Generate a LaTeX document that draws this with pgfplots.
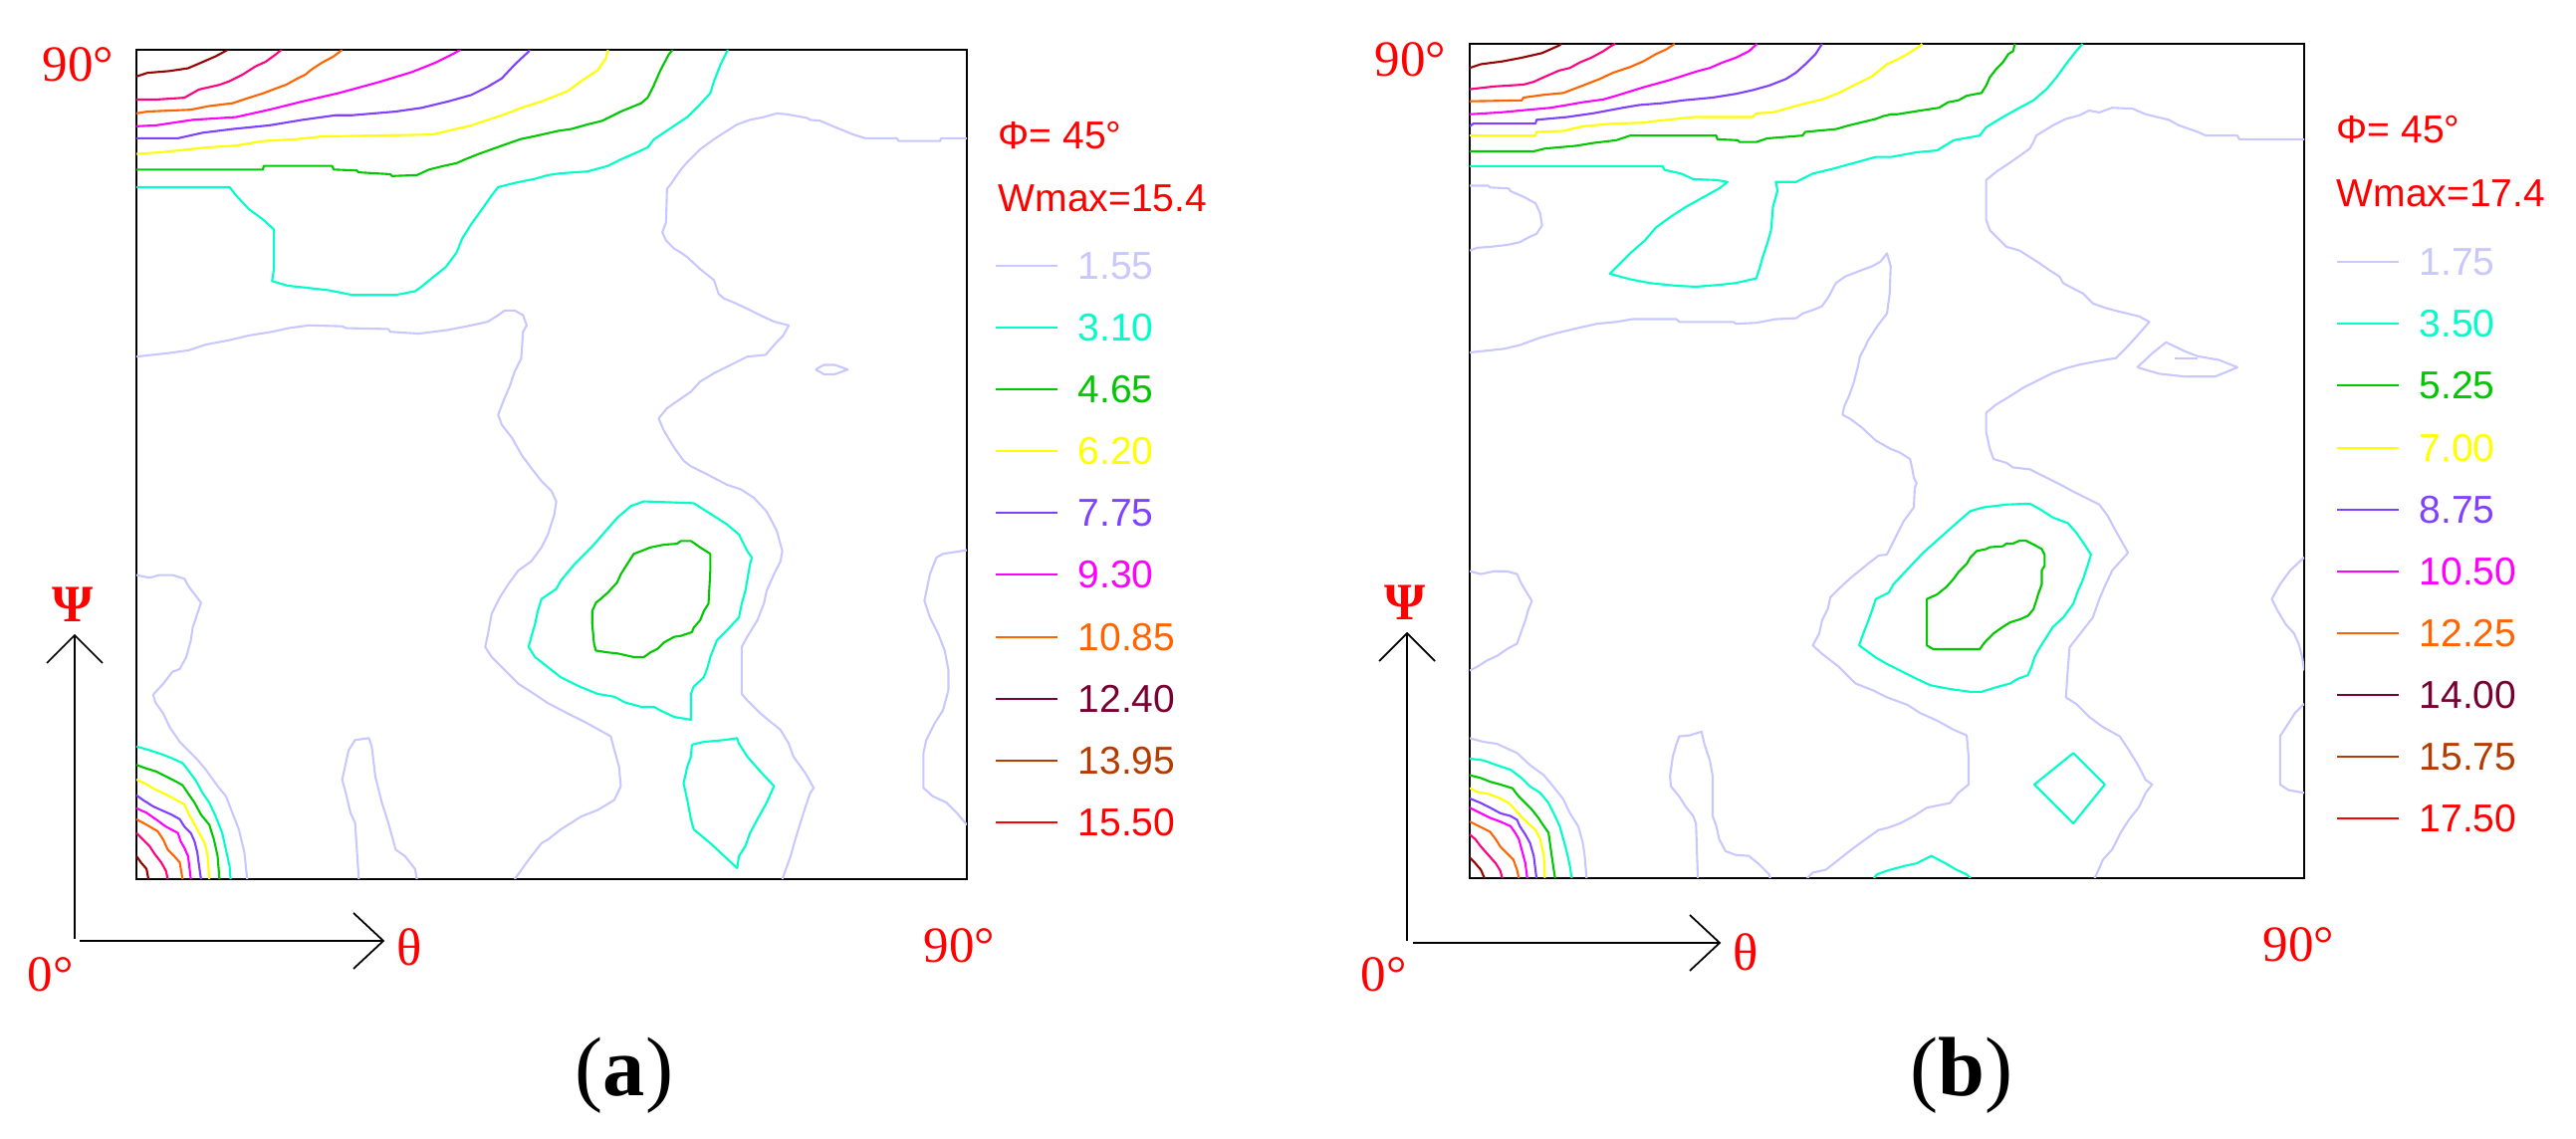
\documentclass[border=0pt]{standalone}
\usepackage{fontspec}
\setmainfont{Liberation Serif}
\newfontfamily\lsans{Liberation Sans}
\usepackage{pgfplots}
\pgfplotsset{compat=1.18}
\definecolor{clav}{RGB}{200,200,255}
\definecolor{ccyan}{RGB}{0,255,200}
\definecolor{cgreen}{RGB}{0,200,0}
\definecolor{cyellow}{RGB}{255,255,0}
\definecolor{cpurple}{RGB}{128,64,255}
\definecolor{cmag}{RGB}{255,0,255}
\definecolor{corange}{RGB}{255,100,0}
\definecolor{cpink}{RGB}{255,0,128}
\definecolor{cdark}{RGB}{150,0,0}
\definecolor{cmaroon}{RGB}{120,0,50}
\definecolor{cbrown}{RGB}{180,60,0}
\definecolor{cred}{RGB}{255,0,0}
\pgfplotsset{odf/.style={scale only axis, xmin=0, xmax=90, ymin=0, ymax=90,
  xtick=\empty, ytick=\empty, axis line style={line width=0.7pt}, no markers,
  every axis plot/.append style={line width=0.6pt, line join=round}}}
\newcommand{\lfont}{\lsans\fontsize{11.1pt}{13pt}\selectfont}
\newcommand{\sfontb}{\fontsize{14.5pt}{17pt}\selectfont}
\newcommand{\legrow}[4]{%
  \draw[#3, line width=0.6pt] (#1,#2) -- ({#1+0.62},#2);
  \node[anchor=west, inner sep=0pt, text=#3, font=\lfont] at ({#1+0.82},#2) {#4};}
\begin{document}
\begin{tikzpicture}
\useasboundingbox (0,0) rectangle (25.87,11.43);
% ---------------- panel (a) ----------------
\begin{axis}[odf, at={(1.37cm,2.60cm)}, anchor=south west, width=8.34cm, height=8.33cm]
% lavender 1.55
\addplot[clav] coordinates {(0,56.7)(3.6,57.1)(5.7,57.4)(7.5,58.0)(10.1,58.5)(12.2,59.0)(14.7,59.4)(16.5,59.8)(18.7,60.1)(22.3,60.0)(22.7,59.8)(27.3,59.7)(27.5,59.4)(30.6,59.2)(33.8,59.6)(36.3,60.1)(38.1,60.5)(39.2,61.2)(39.9,61.7)(41.0,61.7)(41.9,61.2)(42.3,60.1)(41.9,59.4)(41.7,56.5)(41.0,55.1)(40.5,53.6)(39.9,52.2)(39.2,50.4)(39.6,49.3)(40.7,47.9)(41.7,46.1)(42.8,44.6)(43.9,43.2)(45.0,42.1)(45.5,41.0)(45.3,39.6)(44.6,37.4)(43.9,36.0)(42.8,34.5)(41.4,33.5)(40.3,32.0)(39.4,30.6)(38.5,28.8)(38.1,26.6)(37.8,25.2)(38.5,24.1)(39.9,22.7)(41.4,21.2)(42.8,20.3)(44.6,19.1)(46.7,18.0)(48.9,16.9)(51.4,15.5)(51.8,14.0)(52.3,12.2)(52.5,10.1)(51.8,8.6)(50.0,7.5)(48.2,6.8)(46.0,5.4)(44.6,4.3)(43.9,3.9)(42.5,2.1)(41.0,0)};
\addplot[clav] coordinates {(90,80.4)(87.2,80.4)(87.1,80.1)(82.6,80.1)(82.4,80.4)(79.0,80.4)(77.7,80.8)(75.5,81.7)(74.1,82.3)(73.0,82.4)(72.7,82.6)(70.5,83.0)(69.4,83.1)(68.0,82.7)(66.5,82.4)(65.1,81.9)(64.0,81.2)(62.6,80.3)(61.1,79.2)(59.7,77.8)(59.0,77.0)(57.9,75.4)(57.5,74.9)(57.4,71.3)(57.0,70.2)(57.4,69.3)(58.3,68.4)(59.0,68.0)(59.7,67.5)(61.1,66.2)(62.6,65.0)(63.1,63.5)(63.7,63.0)(64.7,62.6)(66.2,61.9)(67.6,61.2)(69.1,60.5)(70.7,60.1)(70.1,59.0)(69.4,58.3)(68.2,56.9)(66.2,56.7)(64.4,55.8)(62.6,54.9)(61.1,54.0)(60.1,52.9)(58.8,52.0)(57.5,51.1)(56.6,50.0)(57.2,48.6)(58.3,46.8)(59.3,45.4)(60.1,44.8)(61.9,43.9)(64.0,42.8)(65.5,42.3)(66.9,41.4)(68.3,39.9)(69.4,37.8)(70.0,35.6)(69.8,34.5)(69.1,33.1)(68.3,31.3)(68.0,29.9)(67.3,28.1)(66.2,26.3)(65.6,25.2)(65.6,20.1)(66.2,19.4)(67.6,18.0)(69.8,16.2)(70.7,14.7)(71.2,13.3)(72.5,11.5)(73.4,9.9)(73.0,9.3)(72.3,7.2)(71.4,4.3)(70.9,2.5)(70.0,0)};
\addplot[clav] coordinates {(73.6,55.3)(74.5,55.8)(75.7,55.8)(77.1,55.3)(75.7,54.8)(74.5,54.8)(73.6,55.3)};
\addplot[clav] coordinates {(90,35.7)(87.4,35.3)(86.7,34.9)(86.0,33.1)(85.4,30.2)(86.0,28.4)(86.9,26.6)(87.6,24.8)(88.0,22.7)(88.0,20.5)(87.4,18.3)(86.5,16.9)(85.6,15.1)(85.3,13.7)(85.3,9.9)(86.3,9.0)(87.8,8.3)(88.9,7.2)(90,5.9)};
\addplot[clav] coordinates {(0,33.0)(1.4,32.7)(2.5,33.0)(3.9,33.0)(5.2,32.6)(5.7,31.7)(7.0,30.0)(6.6,28.8)(6.1,27.3)(5.9,25.9)(5.4,24.1)(4.7,22.8)(3.9,22.5)(2.9,21.2)(1.8,20.0)(2.1,19.1)(2.9,18.0)(3.6,16.5)(4.7,14.9)(5.6,14.0)(6.5,13.1)(7.5,11.9)(8.8,10.1)(9.7,9.0)(10.4,7.2)(11.1,5.4)(11.7,2.9)(12.0,0)};
\addplot[clav] coordinates {(24.1,0)(23.7,6.1)(23.2,7.2)(22.7,9.3)(22.3,10.8)(23.0,14.0)(23.7,15.1)(25.2,15.3)(25.5,14.4)(25.9,11.1)(26.6,8.3)(27.3,6.1)(28.1,3.2)(29.1,2.5)(30.2,1.1)(30.4,0)};
% cyan 3.10
\addplot[ccyan] coordinates {(0,75.1)(10.1,75.1)(10.8,74.2)(12.2,72.7)(13.7,71.6)(14.9,70.5)(14.9,66.2)(14.7,64.9)(16.4,64.4)(18.3,64.2)(20.9,63.9)(23.4,63.4)(28.1,63.4)(30.2,63.8)(30.9,64.3)(32.0,65.2)(33.5,66.4)(34.7,68.0)(35.3,69.5)(36.3,71.1)(37.6,72.9)(38.5,74.2)(39.2,75.1)(41.2,75.6)(43.2,76.0)(44.6,76.4)(46.0,76.6)(48.9,76.8)(51.1,77.4)(52.5,78.1)(54.3,78.9)(55.4,79.4)(56.1,80.3)(57.9,81.5)(59.7,82.7)(61.1,84.1)(62.2,85.3)(62.6,86.6)(63.3,88.4)(64.0,89.8)(64.1,90)};
\addplot[ccyan] coordinates {(55.0,41.0)(60.4,40.8)(62.6,39.4)(64.0,38.5)(65.3,37.4)(66.2,35.6)(66.7,34.9)(66.5,34.2)(66.0,31.3)(65.6,29.9)(65.3,28.4)(64.0,27.0)(62.9,25.9)(62.2,24.1)(61.9,23.0)(61.5,21.9)(60.4,20.9)(60.1,20.1)(60.1,17.3)(58.3,17.6)(56.8,18.3)(56.1,18.7)(54.7,18.7)(52.9,19.2)(51.8,19.8)(50.0,20.1)(47.8,21.0)(46.0,21.9)(44.6,23.0)(43.2,24.1)(42.5,25.2)(42.8,26.3)(43.2,27.7)(43.5,29.1)(43.9,30.4)(45.5,31.5)(46.0,32.4)(47.5,34.2)(49.3,36.0)(50.7,37.6)(52.1,39.2)(53.6,40.5)(55.0,41.0)};
\addplot[ccyan] coordinates {(60.2,14.6)(61.5,14.9)(63.7,15.1)(65.1,15.3)(65.3,14.7)(66.2,13.3)(67.6,11.7)(69.1,10.1)(68.3,8.3)(67.3,6.5)(66.5,5.0)(66.0,3.6)(65.3,2.5)(65.1,1.2)(63.7,2.5)(62.2,3.9)(60.4,5.4)(60.1,6.5)(59.7,8.6)(59.3,10.4)(59.7,12.2)(60.1,13.3)(60.2,14.6)};
\addplot[ccyan] coordinates {(0,14.4)(1.4,14.0)(2.9,13.5)(3.9,13.1)(5.0,12.6)(5.7,11.7)(6.5,10.6)(7.2,9.3)(7.9,8.3)(8.6,6.8)(9.3,5.0)(9.7,3.2)(10.1,1.4)(10.2,0)};
% green 4.65
\addplot[cgreen] coordinates {(0,77.0)(13.7,77.0)(13.8,77.4)(21.2,77.4)(21.4,77.0)(23.9,76.9)(24.1,76.7)(27.5,76.5)(27.7,76.3)(30.4,76.4)(31.7,77.0)(33.3,77.4)(34.7,77.7)(35.6,78.1)(37.1,78.7)(38.5,79.2)(39.9,79.7)(41.6,80.3)(43.5,80.7)(45.7,81.2)(47.1,81.4)(48.9,81.9)(50.5,82.3)(52.5,83.3)(54.7,84.2)(55.4,84.8)(56.1,86.2)(56.8,87.8)(57.7,89.5)(58.1,90)};
\addplot[cgreen] coordinates {(59.0,36.7)(60.1,36.7)(61.1,36.0)(62.2,35.3)(62.2,33.5)(62.0,29.9)(61.5,29.1)(61.1,28.1)(60.4,27.3)(60.2,26.8)(59.0,26.4)(58.3,26.3)(57.2,25.7)(56.5,25.0)(55.7,24.6)(55.0,24.1)(53.9,24.1)(52.1,24.5)(51.1,24.6)(49.8,24.8)(49.6,25.5)(49.4,27.7)(49.4,29.1)(49.8,30.0)(50.3,30.4)(51.1,31.1)(52.1,32.2)(52.5,33.1)(53.2,34.2)(53.9,35.3)(54.7,35.6)(55.7,36.0)(57.2,36.3)(58.6,36.4)(59.0,36.7)};
\addplot[cgreen] coordinates {(0,12.4)(1.1,12.0)(2.1,11.7)(2.9,11.3)(3.9,10.8)(5.0,10.2)(5.6,9.3)(6.3,8.3)(7.0,7.0)(7.9,5.9)(8.4,4.3)(8.8,2.5)(9.0,0)};
% yellow 6.20
\addplot[cyellow] coordinates {(0,78.7)(2.9,78.9)(7.5,79.4)(10.8,79.6)(13.7,80.1)(17.3,80.3)(20.1,80.6)(32.0,80.8)(34.2,81.3)(36.3,81.8)(38.1,82.4)(39.9,83.0)(41.7,83.7)(43.9,84.4)(45.7,85.1)(46.7,85.5)(48.2,86.6)(50.0,87.8)(50.9,89.1)(51.1,90)};
\addplot[cyellow] coordinates {(0,10.8)(0.9,10.4)(2.1,9.7)(3.2,9.2)(4.3,8.6)(5.2,8.1)(5.6,7.2)(6.1,6.3)(6.8,5.0)(7.4,3.9)(7.7,2.7)(7.9,0)};
% purple 7.75
\addplot[cpurple] coordinates {(0,80.4)(4.5,80.4)(7.2,81.0)(10.4,81.4)(14.4,81.8)(18.0,82.4)(21.6,82.9)(23.4,82.9)(28.1,83.3)(30.9,83.7)(33.8,84.4)(36.3,85.1)(38.1,86.0)(39.6,86.9)(41.0,88.4)(42.5,89.8)(42.6,90)};
\addplot[cpurple] coordinates {(0,9.1)(0.7,8.6)(1.8,7.9)(2.9,7.4)(3.8,7.0)(4.7,6.5)(5.2,5.7)(5.9,5.0)(6.3,4.1)(6.6,2.9)(6.8,1.4)(7.0,0)};
% magenta 9.30
\addplot[cmag] coordinates {(0,81.7)(2.1,81.8)(6.1,82.4)(10.8,82.7)(14.4,83.5)(18.0,84.4)(21.9,85.3)(26.3,86.5)(29.9,87.6)(32.4,88.6)(34.4,89.6)(35.1,90)};
\addplot[cmag] coordinates {(0,7.7)(1.1,7.2)(2.1,6.5)(3.2,5.7)(4.5,5.0)(4.8,4.1)(5.2,3.4)(5.6,2.5)(5.9,0)};
% orange 10.85
\addplot[corange] coordinates {(0,83.1)(1.2,83.3)(5.9,83.5)(7.9,83.9)(10.4,84.2)(11.9,84.7)(13.8,85.3)(15.1,85.8)(16.2,86.2)(17.3,86.8)(18.3,87.3)(18.9,87.8)(20.1,88.6)(21.4,89.3)(22.3,90)};
\addplot[corange] coordinates {(0,6.5)(1.1,5.9)(2.3,5.2)(2.9,4.3)(3.4,3.2)(4.1,2.5)(4.7,1.8)(5.0,0)};
% higher levels
\addplot[cpink] coordinates {(0,84.6)(2.1,84.6)(5.2,84.8)(6.8,85.7)(9.0,86.2)(10.1,86.6)(11.5,87.3)(12.9,88.2)(14.0,88.7)(15.1,89.5)(15.7,90)};
\addplot[cpink] coordinates {(0,5.0)(0.7,4.3)(1.4,3.6)(2.0,2.7)(2.7,1.8)(3.2,0.9)(3.4,0)};
\addplot[cdark] coordinates {(0,87.1)(1.2,87.5)(3.6,87.7)(5.6,88.0)(7.0,88.6)(8.6,89.3)(9.9,90)};
\addplot[cdark] coordinates {(0,2.5)(0.5,1.8)(1.1,1.1)(1.3,0)};
\end{axis}
% ---------------- panel (b) ----------------
\begin{axis}[odf, at={(14.76cm,2.61cm)}, anchor=south west, width=8.38cm, height=8.38cm]
% lavender 1.75
\addplot[clav] coordinates {(0,56.7)(3.7,57.1)(5.4,57.5)(7.6,58.3)(9.4,58.8)(11.5,59.3)(13.7,59.8)(15.8,60.0)(17.6,60.3)(22.3,60.3)(22.6,60.0)(28.4,60.0)(28.7,59.8)(30.9,59.9)(33.0,60.3)(35.2,60.4)(35.9,60.9)(37.3,61.4)(38.0,61.7)(38.7,62.7)(39.5,64.2)(40.5,64.9)(42.3,65.6)(43.4,66.0)(44.3,66.5)(45.0,67.4)(45.4,66.0)(45.3,63.1)(45.0,60.9)(44.3,60.0)(43.8,59.3)(42.9,57.9)(42.7,57.4)(42.1,56.3)(41.8,54.9)(41.4,53.4)(40.9,52.0)(40.4,50.9)(40.2,50.0)(41.1,49.5)(42.3,48.6)(43.8,47.2)(45.4,46.3)(46.4,45.9)(47.5,45.2)(47.7,44.3)(47.9,43.2)(48.2,42.6)(48.0,42.1)(47.9,40.0)(46.8,38.5)(46.1,37.1)(45.0,34.9)(44.1,34.8)(42.7,33.7)(41.1,32.4)(39.8,31.2)(38.9,30.3)(38.6,29.0)(38.0,27.8)(37.7,26.4)(37.0,25.1)(38.0,24.2)(39.8,22.8)(41.6,21.0)(43.4,20.3)(45.0,19.5)(47.2,18.7)(48.6,17.8)(50.4,17.0)(52.2,16.0)(53.6,15.4)(53.8,13.1)(53.8,10.1)(52.7,9.2)(51.8,8.1)(49.3,7.6)(47.9,6.7)(46.4,5.9)(45.0,5.4)(44.1,5.2)(42.7,4.2)(41.2,3.1)(39.8,2.0)(38.4,0.9)(37.0,0.6)(36.4,0)};
\addplot[clav] coordinates {(90,79.7)(83.0,79.7)(82.8,80.1)(79.4,80.1)(78.5,80.5)(76.5,81.2)(75.4,81.8)(72.9,82.4)(71.5,83.0)(69.3,83.1)(67.9,82.6)(66.8,82.8)(65.8,82.3)(64.3,81.9)(62.9,81.2)(61.1,80.1)(60.8,79.4)(60.4,78.7)(59.3,77.9)(58.3,77.2)(56.8,76.2)(55.7,75.3)(55.7,71.0)(56.1,69.9)(57.2,68.8)(57.9,68.1)(59.3,67.7)(61.5,66.3)(62.5,65.6)(63.6,64.9)(64.0,64.2)(65.1,63.6)(66.1,63.1)(67.2,62.0)(68.6,61.5)(70.1,61.1)(72.2,60.6)(73.3,60.0)(71.9,58.4)(70.8,57.2)(69.7,56.1)(67.9,55.8)(65.8,55.4)(64.3,55.0)(62.9,54.5)(61.1,53.6)(59.7,52.9)(58.3,52.0)(56.8,51.1)(55.7,50.2)(55.7,48.1)(56.1,46.3)(56.5,45.2)(57.9,44.8)(58.6,44.3)(60.4,44.1)(61.8,43.4)(63.6,42.5)(65.1,41.7)(66.5,41.0)(67.9,40.3)(68.8,39.1)(69.7,37.4)(70.4,36.2)(71.0,35.1)(70.2,34.2)(69.3,33.2)(68.6,31.7)(67.9,30.1)(67.2,28.1)(66.1,26.7)(65.4,25.8)(64.7,24.9)(64.5,22.4)(64.3,19.5)(65.4,18.8)(66.8,17.4)(68.3,16.3)(70.1,15.3)(71.1,13.8)(72.2,12.0)(72.9,10.6)(73.6,10.1)(72.9,9.2)(72.2,7.7)(71.1,6.3)(70.2,4.9)(69.3,3.1)(68.3,2.0)(67.6,0.4)(67.4,0)};
\addplot[clav] coordinates {(72.0,55.1)(73.6,56.6)(75.1,57.8)(77.2,56.8)(78.5,56.3)(80.8,55.9)(82.8,55.1)(80.4,54.1)(77.2,54.1)(74.4,54.4)(72.0,55.1)};
\addplot[clav] coordinates {(76.0,56.1)(78.5,56.1)};
\addplot[clav] coordinates {(0,74.7)(2.0,74.7)(2.2,74.5)(4.2,74.4)(4.4,74.1)(5.8,73.5)(7.1,72.8)(7.6,71.7)(7.8,70.4)(7.2,69.5)(6.5,69.2)(5.4,68.6)(4.0,68.3)(2.2,68.1)(0.8,68.0)(0,67.7)};
\addplot[clav] coordinates {(90,34.6)(88.5,33.2)(87.4,31.7)(86.5,30.1)(87.1,28.9)(88.0,27.4)(88.9,26.4)(89.4,25.3)(89.8,23.8)(90,22.4)};
\addplot[clav] coordinates {(90,18.8)(89.0,17.8)(88.3,16.7)(87.4,15.3)(87.4,10.1)(88.3,9.5)(90,9.2)};
\addplot[clav] coordinates {(0,33.1)(1.2,32.8)(2.6,33.1)(4.0,33.1)(5.1,32.8)(5.6,31.7)(6.7,29.9)(6.3,28.9)(6.0,27.8)(5.6,26.7)(5.1,25.3)(4.0,24.7)(3.0,24.0)(1.9,23.5)(0.8,22.8)(0,22.4)};
\addplot[clav] coordinates {(0,15.1)(1.5,14.7)(2.9,14.5)(4.0,14.0)(5.1,13.5)(6.5,12.2)(8.0,11.1)(9.0,9.9)(10.1,8.5)(10.8,7.0)(11.7,5.6)(12.2,3.8)(12.4,2.4)(12.6,0)};
\addplot[clav] coordinates {(24.6,0)(24.4,5.9)(24.1,6.7)(23.3,7.7)(22.6,8.8)(21.7,9.9)(21.6,11.0)(21.9,13.1)(22.3,14.5)(22.6,15.3)(23.7,15.4)(25.0,15.8)(25.3,14.5)(25.9,12.7)(26.2,11.0)(26.2,6.7)(26.6,5.6)(26.9,4.2)(27.6,2.9)(28.7,2.5)(30.1,2.4)(31.2,1.5)(32.3,0.4)(32.4,0)};
% cyan 3.50
\addplot[ccyan] coordinates {(0,76.8)(20.8,76.8)(21.0,76.4)(22.8,76.0)(24.1,75.4)(26.6,75.3)(27.8,75.1)(26.9,74.4)(25.1,73.4)(23.3,72.4)(21.6,71.3)(20.1,70.2)(18.9,68.8)(17.3,67.4)(16.2,66.3)(15.1,65.2)(17.3,64.6)(19.4,64.2)(22.3,63.9)(24.4,63.8)(26.9,64.0)(28.7,64.2)(30.9,64.7)(31.2,65.6)(31.6,67.0)(32.1,68.5)(32.5,69.9)(32.7,72.4)(33.2,74.2)(33.0,75.1)(35.2,75.1)(37.0,76.0)(39.1,76.5)(42.0,77.3)(43.8,77.8)(45.5,77.8)(48.2,78.3)(50.4,78.5)(52.2,79.6)(55.0,80.1)(55.7,81.0)(57.5,82.1)(59.3,83.1)(60.8,83.9)(62.2,85.1)(63.3,86.4)(64.3,87.8)(65.4,89.2)(66.1,90)};
\addplot[ccyan] coordinates {(55.4,40.0)(57.9,40.3)(60.4,40.4)(61.5,39.8)(62.9,38.9)(64.5,38.3)(65.4,37.3)(66.3,36.0)(67.0,34.9)(66.7,33.9)(66.1,32.1)(65.6,31.0)(65.1,29.6)(64.0,28.1)(62.9,27.1)(62.2,26.0)(61.5,24.9)(60.9,23.8)(60.6,22.8)(60.2,21.9)(59.1,21.5)(58.3,21.0)(56.8,20.6)(55.2,20.1)(54.0,20.1)(51.8,20.4)(49.7,20.8)(48.2,21.5)(46.8,22.2)(45.0,23.1)(43.8,23.8)(42.7,24.6)(42.0,25.1)(42.3,26.0)(43.0,27.8)(43.4,28.9)(43.8,30.1)(45.2,30.8)(45.7,31.7)(47.2,33.3)(48.9,35.1)(50.7,36.7)(52.5,38.3)(54.0,39.6)(55.4,40.0)};
\addplot[ccyan] coordinates {(65.1,13.5)(68.5,10.1)(65.1,5.9)(60.9,10.1)(65.1,13.5)};
\addplot[ccyan] coordinates {(43.6,0)(43.9,0.4)(45.0,0.8)(46.8,1.3)(48.2,1.6)(49.8,2.4)(51.3,1.6)(52.5,0.9)(53.6,0.4)(54.0,0)};
\addplot[ccyan] coordinates {(0,12.9)(1.5,12.7)(2.9,12.2)(4.4,11.7)(5.6,10.8)(6.5,9.9)(7.6,9.2)(8.5,8.1)(9.2,6.7)(9.7,5.6)(10.1,4.2)(10.5,2.7)(10.8,1.3)(11.0,0)};
% green 5.25
\addplot[cgreen] coordinates {(0,78.4)(6.9,78.4)(8.1,78.7)(11.5,79.0)(13.3,79.3)(15.8,79.6)(17.3,80.1)(26.6,80.1)(26.7,79.7)(28.9,79.6)(29.1,79.4)(30.9,79.4)(32.1,79.8)(35.9,80.1)(36.2,80.5)(39.5,80.8)(40.9,81.2)(43.8,81.9)(44.6,82.2)(45.5,82.4)(46.1,82.4)(48.6,82.8)(50.6,83.1)(51.6,83.7)(52.7,83.9)(53.6,84.4)(55.2,84.7)(55.7,85.5)(56.1,86.4)(56.8,87.3)(57.5,88.0)(58.1,88.9)(58.6,89.2)(58.8,90)};
\addplot[cgreen] coordinates {(59.3,36.4)(60.0,36.4)(60.8,36.0)(61.7,35.5)(62.0,34.9)(62.0,33.7)(61.7,33.2)(61.7,31.7)(61.3,30.6)(61.1,29.9)(60.8,29.0)(60.2,28.3)(59.3,27.9)(58.3,27.6)(57.5,27.1)(56.5,26.4)(55.6,25.5)(55.0,24.7)(50.0,24.7)(49.3,25.1)(49.3,30.1)(50.4,30.6)(51.4,31.4)(52.2,32.3)(52.7,33.0)(53.6,33.9)(54.0,34.6)(54.7,35.3)(55.7,35.5)(56.1,35.7)(57.5,35.8)(57.9,36.1)(58.6,36.1)(59.3,36.4)};
\addplot[cgreen] coordinates {(0,11.1)(1.2,10.8)(2.2,10.4)(3.3,10.1)(4.6,9.7)(5.3,8.8)(6.0,8.1)(6.7,7.4)(7.4,6.5)(8.0,5.6)(8.5,4.9)(8.8,2.7)(9.2,0)};
% yellow 7.00
\addplot[cyellow] coordinates {(0,80.1)(7.1,80.1)(7.2,80.5)(10.1,80.6)(12.2,81.1)(15.5,81.4)(19.1,81.5)(19.4,81.6)(24.1,82.1)(30.5,82.1)(30.9,82.5)(32.7,82.6)(34.1,83.0)(35.9,83.5)(38.0,84.0)(39.8,84.7)(41.6,85.6)(43.4,86.5)(44.5,87.4)(45.0,87.8)(46.1,88.3)(47.2,88.9)(48.6,89.8)(48.8,90)};
\addplot[cyellow] coordinates {(0,9.7)(0.8,9.3)(2.0,9.1)(3.3,8.6)(4.2,8.1)(4.7,7.6)(5.4,6.8)(6.3,5.9)(7.1,5.2)(7.6,4.2)(8.0,2.4)(8.1,0)};
% purple 8.75
\addplot[cpurple] coordinates {(0,81.1)(0.4,81.4)(7.1,81.4)(7.2,81.8)(10.5,82.1)(13.3,82.5)(16.5,83.1)(18.3,83.4)(20.8,83.6)(23.0,83.9)(26.2,84.2)(28.7,84.6)(30.5,85.0)(32.3,85.5)(34.1,86.2)(35.2,86.9)(36.2,87.8)(37.3,88.9)(38.0,90)};
\addplot[cpurple] coordinates {(0,8.6)(1.2,8.1)(2.2,7.6)(3.3,7.0)(4.4,6.7)(5.1,6.3)(5.4,5.6)(6.0,4.7)(6.5,3.8)(6.9,2.4)(7.2,0)};
% magenta 10.50
\addplot[cmag] coordinates {(0,82.4)(3.3,82.6)(6.5,82.9)(8.7,83.1)(10.5,83.4)(12.2,83.7)(14.4,84.0)(15.8,84.4)(18.7,85.3)(21.6,86.1)(24.4,87.0)(25.9,87.4)(27.3,88.0)(28.7,88.5)(30.1,89.2)(31.0,90)};
\addplot[cmag] coordinates {(0,7.6)(1.2,7.0)(2.2,6.5)(3.3,6.1)(4.4,5.6)(4.9,4.9)(5.3,4.2)(5.6,3.1)(6.0,1.6)(6.2,0)};
% orange 12.25
\addplot[corange] coordinates {(0,83.8)(5.6,83.9)(5.8,84.2)(8.0,84.5)(10.1,84.7)(12.2,85.5)(14.0,86.2)(15.5,86.9)(17.3,87.5)(18.7,88.1)(20.1,88.9)(21.2,89.4)(22.1,90)};
\addplot[corange] coordinates {(0,6.1)(1.0,5.6)(2.2,5.0)(2.8,4.2)(3.3,3.4)(4.0,2.7)(4.7,2.0)(5.1,0.9)(5.3,0)};
% higher levels
\addplot[cpink] coordinates {(0,85.1)(2.6,85.4)(5.8,85.6)(6.9,85.9)(8.0,86.4)(9.6,87.1)(10.8,87.4)(11.9,88.0)(13.1,88.5)(14.4,89.2)(15.3,89.8)(15.7,90)};
\addplot[cpink] coordinates {(0,4.7)(0.6,4.2)(1.2,3.4)(2.0,2.5)(2.8,1.6)(3.3,0.8)(3.5,0)};
\addplot[cdark] coordinates {(0,87.4)(1.2,87.8)(3.5,88.1)(5.6,88.5)(7.8,89.0)(8.7,89.4)(9.6,89.8)(9.9,90)};
\addplot[cdark] coordinates {(0,2.2)(0.6,1.6)(1.2,0.9)(1.5,0.2)(1.6,0)};
\end{axis}
% ---------------- annotations (a) ----------------
\begin{scope}[every node/.style={inner sep=0pt}]
\node[anchor=base west, text=red, font=\sfontb] at (0.42,10.61) {90°};
\node[anchor=base west, text=red, font=\sfontb] at (0.27,1.48) {0°};
\node[anchor=base west, text=red, font=\sfontb] at (9.27,1.77) {90°};
\node[text=red, font=\fontsize{15pt}{18pt}\selectfont\bfseries] at (0.73,5.36) {Ψ};
\node[text=red, font=\fontsize{15pt}{18pt}\selectfont] at (4.11,1.92) {θ};
\draw[line width=0.6pt] (0.75,2.00) -- (0.75,5.05);
\draw[line width=0.5pt] (0.47,4.77) -- (0.75,5.05) -- (1.03,4.77);
\draw[line width=0.6pt] (0.80,1.98) -- (3.85,1.98);
\draw[line width=0.5pt] (3.55,2.26) -- (3.85,1.98) -- (3.55,1.70);
\node[anchor=base west, text=cred, font=\lfont] at (10.02,9.93) {Φ= 45°};
\node[anchor=base west, text=cred, font=\lfont] at (10.02,9.30) {Wmax=15.4};
\legrow{10.00}{8.76}{clav}{1.55}
\legrow{10.00}{8.14}{ccyan}{3.10}
\legrow{10.00}{7.52}{cgreen}{4.65}
\legrow{10.00}{6.90}{cyellow}{6.20}
\legrow{10.00}{6.28}{cpurple}{7.75}
\legrow{10.00}{5.66}{cmag}{9.30}
\legrow{10.00}{5.03}{corange}{10.85}
\legrow{10.00}{4.41}{cmaroon}{12.40}
\legrow{10.00}{3.79}{cbrown}{13.95}
\legrow{10.00}{3.17}{cred}{15.50}
\node[anchor=base, font=\fontsize{24pt}{28pt}\selectfont] at (6.27,0.43) {(\textbf{a})};
% ---------------- annotations (b) ----------------
\node[anchor=base west, text=red, font=\sfontb] at (13.80,10.66) {90°};
\node[anchor=base west, text=red, font=\sfontb] at (13.66,1.48) {0°};
\node[anchor=base west, text=red, font=\sfontb] at (22.72,1.78) {90°};
\node[text=red, font=\fontsize{15pt}{18pt}\selectfont\bfseries] at (14.11,5.38) {Ψ};
\node[text=red, font=\fontsize{15pt}{18pt}\selectfont] at (17.53,1.87) {θ};
\draw[line width=0.6pt] (14.13,1.98) -- (14.13,5.07);
\draw[line width=0.5pt] (13.85,4.79) -- (14.13,5.07) -- (14.41,4.79);
\draw[line width=0.6pt] (14.19,1.96) -- (17.27,1.96);
\draw[line width=0.5pt] (16.97,2.24) -- (17.27,1.96) -- (16.97,1.68);
\node[anchor=base west, text=cred, font=\lfont] at (23.46,9.99) {Φ= 45°};
\node[anchor=base west, text=cred, font=\lfont] at (23.46,9.35) {Wmax=17.4};
\legrow{23.47}{8.80}{clav}{1.75}
\legrow{23.47}{8.18}{ccyan}{3.50}
\legrow{23.47}{7.56}{cgreen}{5.25}
\legrow{23.47}{6.93}{cyellow}{7.00}
\legrow{23.47}{6.31}{cpurple}{8.75}
\legrow{23.47}{5.69}{cmag}{10.50}
\legrow{23.47}{5.07}{corange}{12.25}
\legrow{23.47}{4.45}{cmaroon}{14.00}
\legrow{23.47}{3.83}{cbrown}{15.75}
\legrow{23.47}{3.21}{cred}{17.50}
\node[anchor=base, font=\fontsize{24pt}{28pt}\selectfont] at (19.70,0.43) {(\textbf{b})};
\end{scope}
\end{tikzpicture}
\end{document}
